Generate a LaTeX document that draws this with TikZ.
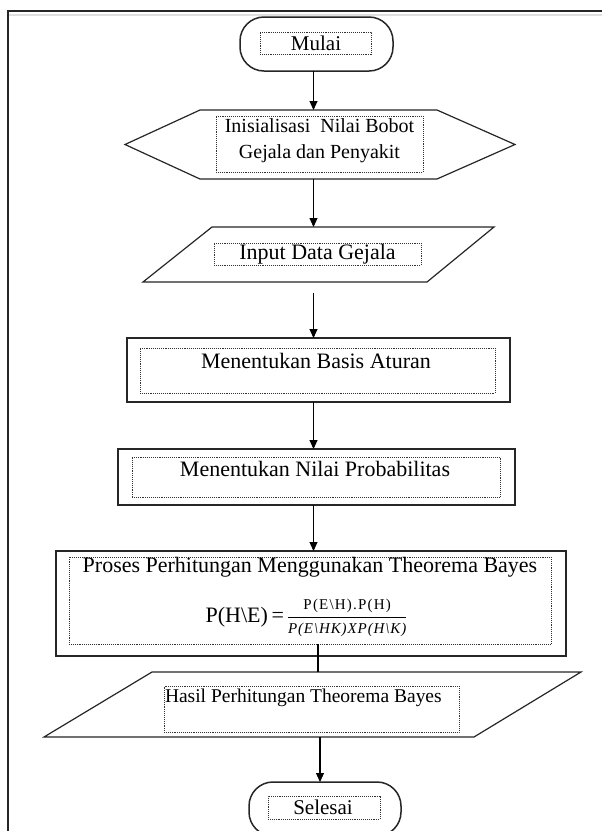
\documentclass[tikz,border=0pt]{standalone}
\usepackage{fontspec}
\setmainfont{Liberation Serif}
\usetikzlibrary{arrows.meta,calc}
\tikzset{
  shapeline/.style={draw=black!85, line width=1.2pt},
  boxline/.style={draw=black!85, line width=1.5pt},
  ghost/.style={draw=none, inner sep=0pt, outer sep=0pt},
  dotbox/.style={draw=black!80, densely dotted, line width=0.9pt, inner sep=0pt, outer sep=0pt},
  lbl/.style={inner sep=0pt, outer sep=0pt, font=\fontsize{22}{26}\selectfont},
  arr/.style={draw=black, line width=1.1pt, -{Triangle[length=9pt,width=8pt]}},
  plain/.style={draw=black, line width=1.1pt},
}
\begin{document}
\begin{tikzpicture}[x=1pt,y=-1pt]
\useasboundingbox (0,0) rectangle (602,831);
\clip (0,0) rectangle (602,831);
\fill[white] (0,0) rectangle (602,831);
% outer frame
\draw[gray!25, line width=2pt] (9,14.5) -- (640,14.5);
\draw[black!85, line width=1.5pt] (8,11) rectangle (640,880);

\coordinate (axis) at (313.5,0);

% Mulai
\node[ghost, boxline, rounded corners=24pt, minimum width=153pt, minimum height=54pt] (mulai) at (316.5,44) {};
\node[dotbox, minimum width=111pt, minimum height=22pt] (mulaibox) at (315.5,43) {};
\node[lbl, font=\fontsize{21}{24}\selectfont] (mulaitxt) at (316,43) {Mulai};

% Hexagon
\node[ghost, minimum width=237pt, minimum height=69pt] (hex) at (318.5,144.5) {};
\draw[shapeline] (hex.north west) -- (hex.north east) -- ($(hex.east)+(78,0)$) -- (hex.south east) -- (hex.south west) -- ($(hex.west)+(-75,0)$) -- cycle;
\node[dotbox, minimum width=207pt, minimum height=56pt] (hexbox) at (319.5,144) {};
\node[lbl, align=center, font=\fontsize{20}{26}\selectfont] (hextxt) at (319.5,141) {Inisialisasi\ \ Nilai Bobot\\Gejala dan Penyakit};

% Input parallelogram
\node[ghost, minimum width=215pt, minimum height=55pt] (para1) at (319.5,254.5) {};
\draw[shapeline] (212,227) -- (494,227) -- (427,282) -- (143,282) -- cycle;
\node[dotbox, minimum width=207pt, minimum height=22pt] (para1box) at (317.5,254) {};
\node[lbl] (para1txt) at (317.5,254) {Input Data Gejala};

% Box 3
\node[ghost, boxline, minimum width=383pt, minimum height=64pt] (box3) at (318.5,370) {};
\node[dotbox, minimum width=355pt, minimum height=45pt] (box3box) at (317.5,370.5) {};
\node[lbl] (box3txt) at (316,361) {Menentukan Basis Aturan};

% Box 4
\node[ghost, boxline, minimum width=397pt, minimum height=56pt] (box4) at (316.5,477) {};
\node[dotbox, minimum width=368pt, minimum height=40pt] (box4box) at (316,477) {};
\node[lbl] (box4txt) at (315,469) {Menentukan Nilai Probabilitas};

% Box 5
\node[ghost, boxline, minimum width=510pt, minimum height=105pt] (box5) at (311,603.5) {};
\node[dotbox, minimum width=482pt, minimum height=87pt] (box5box) at (310,600.5) {};
\node[lbl] (box5txt) at (310,567) {Proses Perhitungan Menggunakan Theorema Bayes};
\node[lbl, anchor=east] (lhs) at (284,617) {P(H\textbackslash E)\,=};
\node[lbl, anchor=west] (frac) at (288,617) {%
  \renewcommand{\arraystretch}{0.9}\setlength{\arrayrulewidth}{0.8pt}%
  \begin{tabular}{@{}c@{}}{\fontsize{15}{16}\selectfont\addfontfeature{LetterSpace=8}P(E\textbackslash H).P(H)}\\\hline{\fontsize{15}{16}\selectfont\itshape\addfontfeature{LetterSpace=6}P(E\textbackslash HK)XP(H\textbackslash K)}\end{tabular}};

% Output parallelogram
\node[ghost, minimum width=322pt, minimum height=65pt] (para2) at (313,704.5) {};
\draw[shapeline] (152,672) -- (581,672) -- (474,737) -- (44,737) -- cycle;
\node[dotbox, minimum width=295pt, minimum height=46pt] (para2box) at (311.5,709) {};
\node[lbl, anchor=west, font=\fontsize{19.5}{22}\selectfont] (para2txt) at (165,698) {Hasil Perhitungan Theorema Bayes};

% Selesai
\node[ghost, boxline, rounded corners=24pt, minimum width=152pt, minimum height=54pt] (selesai) at (325,809) {};
\node[dotbox, minimum width=112pt, minimum height=23pt] (selesaibox) at (324,807.5) {};
\node[lbl, font=\fontsize{21}{24}\selectfont] (selesaitxt) at (323,807.5) {Selesai};

% connectors
\coordinate (lineA) at (318,0);
\coordinate (lineB) at (320,0);
\draw[arr] (mulai.south -| axis) -- (hex.north -| axis);
\draw[arr] (hex.south -| axis) -- (para1.north -| axis);
\draw[arr, shorten <=11pt] (para1.south -| axis) -- (box3.north -| axis);
\draw[arr] (box3.south -| axis) -- (box4.north -| axis);
\draw[arr] (box4.south -| axis) -- (box5.north -| axis);
\draw[plain] (box5box.south -| lineA) -- (para2.north -| lineA);
\draw[arr] (para2.south -| lineB) -- (selesai.north -| lineB);
\end{tikzpicture}
\end{document}
